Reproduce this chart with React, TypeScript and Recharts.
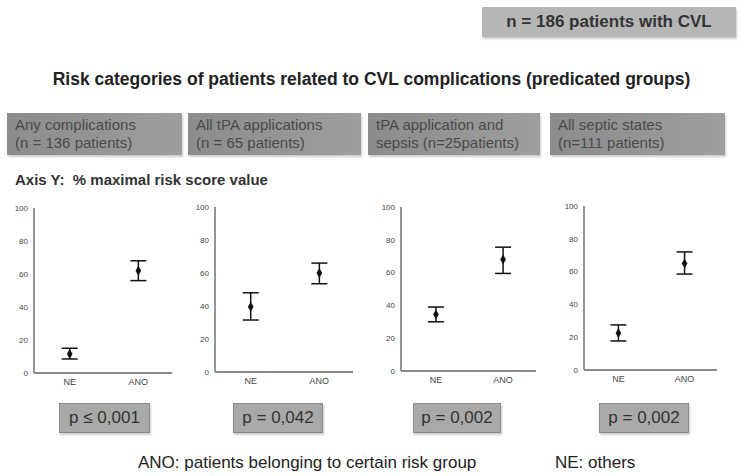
import React from "react";
import { ComposedChart, Scatter, ErrorBar, XAxis, YAxis, ZAxis } from "recharts";

const groups = ["NE", "ANO"];
const yTicks = [0, 20, 40, 60, 80, 100];

const neMean = [11.5, 39.5, 34.5, 22.5];
const neUpper = [15, 48, 39, 27.5];
const neLower = [8.5, 31.5, 30, 17.7];
const anoMean = [62, 60, 68, 65];
const anoUpper = [68, 66, 75.5, 72];
const anoLower = [56, 53.5, 59.5, 58.5];

const categoryTitles = [
  ["Any complications", "(n = 136 patients)"],
  ["All tPA applications", "(n = 65 patients)"],
  ["tPA application and", "sepsis (n=25patients)"],
  ["All septic states", "(n=111 patients)"],
];
const pValues = ["p ≤ 0,001", "p = 0,042", "p = 0,002", "p = 0,002"];

const FONT = "'Liberation Sans', Arial, sans-serif";

// layout only
const panels = [
  { axisX: 34, axisEnd: 172, top: 208, zero: 373 },
  { axisX: 215, axisEnd: 353, top: 207, zero: 372 },
  { axisX: 401, axisEnd: 536, top: 207, zero: 371 },
  { axisX: 584, axisEnd: 717, top: 206, zero: 370 },
];
const catBoxes = [
  { x: 7, w: 175 },
  { x: 188, w: 173 },
  { x: 368, w: 172 },
  { x: 550, w: 175 },
];
const pBoxes = [
  { x: 59, w: 91 },
  { x: 233, w: 90 },
  { x: 413, w: 88 },
  { x: 599, w: 90 },
];

const YW = 30;
const MT = 5;
const XH = 22;

function Panel({ i }: { i: number }) {
  const p = panels[i];
  const data = groups.map((g, k) => {
    const m = k === 0 ? neMean[i] : anoMean[i];
    const up = k === 0 ? neUpper[i] : anoUpper[i];
    const lo = k === 0 ? neLower[i] : anoLower[i];
    return { idx: k, group: g, mean: m, err: [m - lo, up - m] };
  });
  const plotH = p.zero - p.top;
  const plotW = p.axisEnd - p.axisX;
  return (
    <div style={{ position: "absolute", left: p.axisX - YW, top: p.top - MT }}>
      <ComposedChart
        width={YW + plotW + 4}
        height={MT + plotH + XH}
        data={data}
        margin={{ top: MT, right: 4, bottom: 0, left: 0 }}
      >
        <XAxis
          dataKey="idx"
          type="number"
          domain={[-0.52, 1.49]}
          ticks={[0, 1]}
          tickFormatter={(v: number) => groups[v] ?? ""}
          height={XH}
          tickLine={false}
          tickSize={4}
          axisLine={{ stroke: "#8a8a8a", strokeWidth: 1.8 }}
          tick={{ fontSize: 9, fill: "#444", fontFamily: FONT }}
          interval={0}
        />
        <YAxis
          type="number"
          domain={[0, 100]}
          ticks={yTicks}
          width={YW}
          tickLine={false}
          tickSize={4}
          axisLine={{ stroke: "#8a8a8a", strokeWidth: 1.8 }}
          tick={{ fontSize: 8, fill: "#444", fontFamily: FONT }}
        />
        <ZAxis range={[28, 28]} />
        <Scatter
          dataKey="mean"
          fill="#111"
          shape="diamond"
          legendType="none"
          isAnimationActive={false}
        >
          <ErrorBar
            dataKey="err"
            direction="y"
            width={8}
            stroke="#111"
            strokeWidth={1.5}
            isAnimationActive={false}
          />
        </Scatter>
      </ComposedChart>
    </div>
  );
}

export default function App() {
  return (
    <div
      style={{
        position: "absolute",
        left: 0,
        top: 0,
        width: 743,
        height: 476,
        background: "#fff",
        fontFamily: FONT,
        overflow: "hidden",
      }}
    >
      <div
        style={{
          position: "absolute",
          left: 482,
          top: 7,
          width: 254,
          height: 30,
          background: "#b6b6b6",
          boxShadow: "1px 2px 2px #ccc",
          display: "flex",
          alignItems: "center",
          justifyContent: "center",
          fontWeight: "bold",
          fontSize: 17,
          color: "#333",
          whiteSpace: "nowrap",
        }}
      >
        n = 186 patients with CVL
      </div>
      <div
        style={{
          position: "absolute",
          left: 0,
          width: 743,
          top: 69,
          textAlign: "center",
          fontWeight: "bold",
          fontSize: 17.5,
          color: "#222",
          whiteSpace: "nowrap",
        }}
      >
        Risk categories of patients related to CVL complications (predicated groups)
      </div>
      {catBoxes.map((b, i) => (
        <div
          key={i}
          style={{
            position: "absolute",
            left: b.x,
            top: 113,
            width: b.w,
            height: 42,
            background: "linear-gradient(90deg, #8c8c8c, #9e9e9e)",
            boxShadow: "1px 2px 2px #ccc",
            color: "#4a4a4a",
            fontSize: 15,
            lineHeight: "18px",
            padding: "3px 0 0 8px",
            boxSizing: "border-box",
            whiteSpace: "nowrap",
            overflow: "hidden",
          }}
        >
          {categoryTitles[i][0]}
          <br />
          {categoryTitles[i][1]}
        </div>
      ))}
      <div
        style={{
          position: "absolute",
          left: 15,
          top: 171,
          fontWeight: "bold",
          fontSize: 15,
          color: "#333",
        }}
      >
        Axis Y:&nbsp; % maximal risk score value
      </div>
      {panels.map((_, i) => (
        <Panel key={i} i={i} />
      ))}
      {pBoxes.map((b, i) => (
        <div
          key={i}
          style={{
            position: "absolute",
            left: b.x,
            top: 403,
            width: b.w,
            height: 30,
            background: "#a9a9a9",
            border: "1px solid #8a8a8a",
            boxSizing: "border-box",
            boxShadow: "1px 2px 2px #ccc",
            display: "flex",
            alignItems: "center",
            justifyContent: "center",
            fontSize: 17,
            color: "#333",
            whiteSpace: "nowrap",
          }}
        >
          {pValues[i]}
        </div>
      ))}
      <div
        style={{
          position: "absolute",
          left: 138,
          top: 453,
          fontSize: 17,
          color: "#222",
          whiteSpace: "nowrap",
        }}
      >
        ANO: patients belonging to certain risk group
      </div>
      <div
        style={{
          position: "absolute",
          left: 555,
          top: 453,
          fontSize: 17,
          color: "#222",
          whiteSpace: "nowrap",
        }}
      >
        NE: others
      </div>
    </div>
  );
}
